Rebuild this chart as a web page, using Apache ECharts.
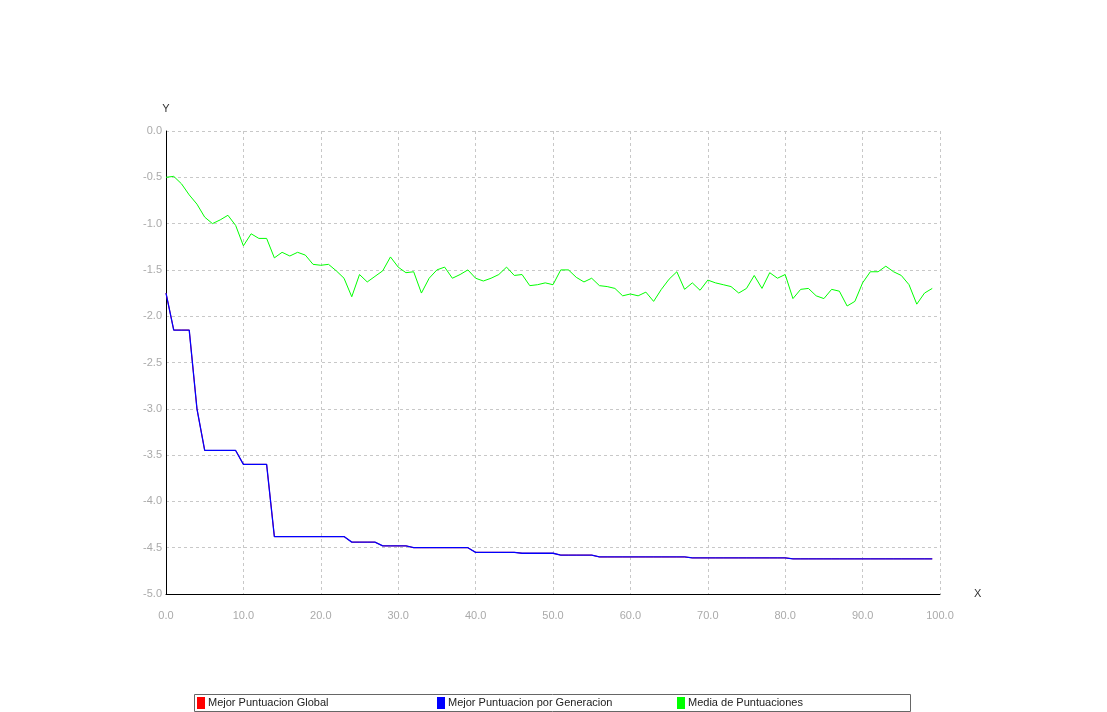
<!DOCTYPE html>
<html><head><meta charset="utf-8">
<script src="https://cdn.jsdelivr.net/npm/echarts@6/dist/echarts.min.js"></script>
<style>html,body{margin:0;padding:0;background:#fff}#c{width:1107px;height:712px}</style>
</head><body><div id="c"></div>
<script>
const seriesNames = ['Mejor Puntuacion Global','Mejor Puntuacion por Generacion','Media de Puntuaciones'];
const bestGen = [-1.75,-2.15,-2.15,-2.15,-3.0,-3.45,-3.45,-3.45,-3.45,-3.45,-3.6,-3.6,-3.6,-3.6,
 -4.38,-4.38,-4.38,-4.38,-4.38,-4.38,-4.38,-4.38,-4.38,-4.38,-4.44,-4.44,-4.44,-4.44,
 -4.48,-4.48,-4.48,-4.48,-4.5,-4.5,-4.5,-4.5,-4.5,-4.5,-4.5,-4.5,
 -4.55,-4.55,-4.55,-4.55,-4.55,-4.55,-4.56,-4.56,-4.56,-4.56,-4.56,
 -4.58,-4.58,-4.58,-4.58,-4.58,-4.6,-4.6,-4.6,-4.6,-4.6,-4.6,-4.6,-4.6,-4.6,-4.6,-4.6,-4.6,
 -4.61,-4.61,-4.61,-4.61,-4.61,-4.61,-4.61,-4.61,-4.61,-4.61,-4.61,-4.61,-4.61,
 -4.62,-4.62,-4.62,-4.62,-4.62,-4.62,-4.62,-4.62,-4.62,-4.62,-4.62,-4.62,-4.62,-4.62,-4.62,-4.62,-4.62,-4.62,-4.62];
const bestGlobal = bestGen.slice();
const mean = [-0.5,-0.49,-0.57,-0.69,-0.79,-0.93,-1.0,-0.96,-0.91,-1.02,-1.24,-1.11,-1.16,-1.16,-1.37,-1.31,-1.35,-1.31,-1.34,-1.44,
 -1.45,-1.44,-1.51,-1.59,-1.79,-1.55,-1.63,-1.57,-1.51,-1.36,-1.47,-1.53,-1.52,-1.75,-1.59,-1.5,-1.47,-1.59,-1.55,-1.5,
 -1.59,-1.62,-1.59,-1.55,-1.47,-1.56,-1.55,-1.67,-1.66,-1.64,-1.66,-1.5,-1.5,-1.58,-1.63,-1.59,-1.67,-1.68,-1.7,-1.78,
 -1.76,-1.78,-1.74,-1.84,-1.71,-1.6,-1.52,-1.71,-1.64,-1.72,-1.61,-1.64,-1.66,-1.68,-1.75,-1.7,-1.56,-1.7,-1.53,-1.59,
 -1.55,-1.81,-1.71,-1.7,-1.78,-1.81,-1.71,-1.73,-1.89,-1.84,-1.64,-1.52,-1.52,-1.46,-1.52,-1.56,-1.66,-1.87,-1.75,-1.7];
const pts = a => a.map((v,i)=>[i,v]);
const leg = (name,left,color)=>({data:[{name,icon:'rect',itemStyle:{color}}],left,top:697,itemWidth:8,itemHeight:12,itemGap:0,padding:0,
  textStyle:{fontFamily:'Liberation Sans, Arial',fontSize:11,color:'#222',padding:[2,0,0,-2]},selectedMode:false});
const chart = echarts.init(document.getElementById('c'));
chart.setOption({
  animation:false,
  grid:{left:166,right:167,top:131,bottom:118},
  xAxis:{type:'value',min:0,max:100,interval:10,name:'X',nameGap:34,nameTextStyle:{color:'#333',fontSize:11,verticalAlign:'middle'},
    axisLine:{onZero:false,lineStyle:{color:'#000'}},axisTick:{show:false},
    axisLabel:{color:'#aaa',fontSize:11,fontFamily:'Liberation Sans, Arial',formatter:v=>v.toFixed(1),margin:16},
    splitLine:{show:true,lineStyle:{color:'#c8c8c8',type:[3,3]}}},
  yAxis:{type:'value',min:-5,max:0,interval:0.5,name:'Y',nameGap:17,nameLocation:'end',nameTextStyle:{color:'#333',fontSize:11,align:'center'},
    axisLine:{show:true,onZero:false,lineStyle:{color:'#000'}},axisTick:{show:false},
    axisLabel:{color:'#aaa',fontSize:11,fontFamily:'Liberation Sans, Arial',formatter:v=>v.toFixed(1),margin:4},
    splitLine:{show:true,lineStyle:{color:'#c8c8c8',type:[3,3]}}},
  legend:[leg(seriesNames[0],197,'#ff0000'),leg(seriesNames[1],437,'#0000ff'),leg(seriesNames[2],677,'#00ff00')],
  graphic:[{type:'rect',shape:{x:194.5,y:694.5,width:716,height:17},style:{fill:'none',stroke:'#666',lineWidth:1},silent:true}],
  series:[
    {name:seriesNames[0],type:'line',data:pts(bestGlobal),showSymbol:false,lineStyle:{color:'#ff0000',width:1},itemStyle:{color:'#ff0000'}},
    {name:seriesNames[1],type:'line',data:pts(bestGen),showSymbol:false,lineStyle:{color:'#0000ff',width:1.3},itemStyle:{color:'#0000ff'}},
    {name:seriesNames[2],type:'line',data:pts(mean),showSymbol:false,lineStyle:{color:'#00ff00',width:1},itemStyle:{color:'#00ff00'}}
  ]
});
</script></body></html>
